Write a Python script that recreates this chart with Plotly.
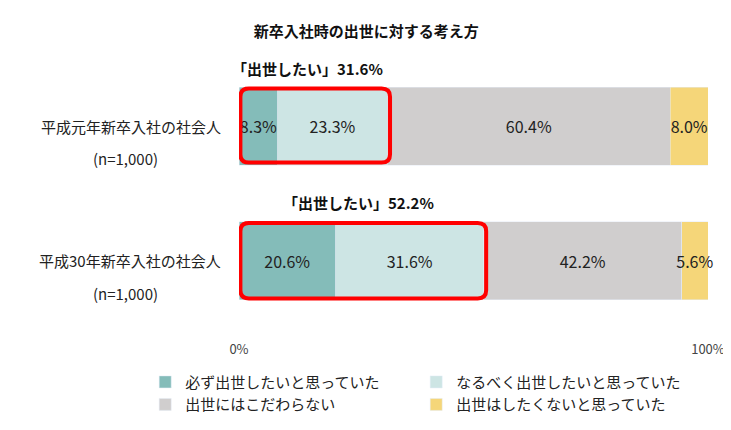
import plotly.graph_objects as go

categories = ["平成元年新卒入社の社会人", "平成30年新卒入社の社会人"]
series_names = ["必ず出世したいと思っていた", "なるべく出世したいと思っていた", "出世にはこだわらない", "出世はしたくないと思っていた"]
values = [[8.3, 20.6], [23.3, 31.6], [60.4, 42.2], [8.0, 5.6]]
colors = ["#84bcb9", "#cde5e4", "#d0cece", "#f5d679"]
want_totals = [31.6, 52.2]
font = "Noto Sans CJK JP"

fig = go.Figure()
for name, v, c in zip(series_names, values, colors):
    fig.add_trace(go.Bar(y=[0, 1], x=v, orientation="h", name=name, marker_color=c,
                         text=[f"{x:.1f}%" for x in v], textposition="inside", textangle=0,
                         constraintext="none", insidetextanchor="middle",
                         textfont=dict(size=16, color="#222"), width=0.58, cliponaxis=False))

def rrect(x0, x1, y0, y1, rx=1.8, ry=0.06):
    return (f"M{x0+rx},{y0} L{x1-rx},{y0} Q{x1},{y0} {x1},{y0+ry} L{x1},{y1-ry} Q{x1},{y1} {x1-rx},{y1} "
            f"L{x0+rx},{y1} Q{x0},{y1} {x0},{y1-ry} L{x0},{y0+ry} Q{x0},{y0} {x0+rx},{y0} Z")

boxes = [(0.3, 32.2, -0.28, 0.27), (0.3, 52.7, 0.72, 1.28)]
for b in boxes:
    fig.add_shape(type="path", path=rrect(*b), xref="x", yref="y",
                  line=dict(color="#ff0000", width=4))

for t, ax, ay in zip(want_totals, [14.7, 25.5], [-0.43, 0.57]):
    fig.add_annotation(x=ax, y=ay, xref="x", yref="y", text=f"<b>「出世したい」{t}%</b>",
                       showarrow=False, font=dict(size=15, color="#111"))

for i, c in enumerate(categories):
    fig.add_annotation(x=-0.034, y=i, xref="paper", yref="y", text=c, showarrow=False,
                       xanchor="right", font=dict(size=15, color="#222"))
    fig.add_annotation(x=-0.168, y=i + 0.24, xref="paper", yref="y", text="(n=1,000)", showarrow=False,
                       xanchor="right", font=dict(size=15, color="#222"))

fig.update_layout(
    barmode="stack", width=731, height=430, plot_bgcolor="white", paper_bgcolor="white",
    font=dict(family=font, color="#222"),
    margin=dict(l=231, r=31, t=51, b=110, autoexpand=False),
    title=dict(text="<b>新卒入社時の出世に対する考え方</b>", x=0.49, xanchor="center", y=0.958,
               font=dict(size=15, color="#111")),
    xaxis=dict(range=[0, 100], tickvals=[0, 100], ticktext=["0%", "100%"], showgrid=False,
               zeroline=False, tickfont=dict(size=13, color="#444"), ticklabelstandoff=12,
               automargin=False),
    yaxis=dict(range=[1.5, -0.5], showticklabels=False, showgrid=False, zeroline=False,
               automargin=False),
    legend=dict(orientation="h", x=-0.2, y=-0.14, xanchor="left", yanchor="top",
                entrywidth=226, font=dict(size=15, color="#222"), traceorder="normal"),
    showlegend=True,
)
fig.write_html("out.html")
